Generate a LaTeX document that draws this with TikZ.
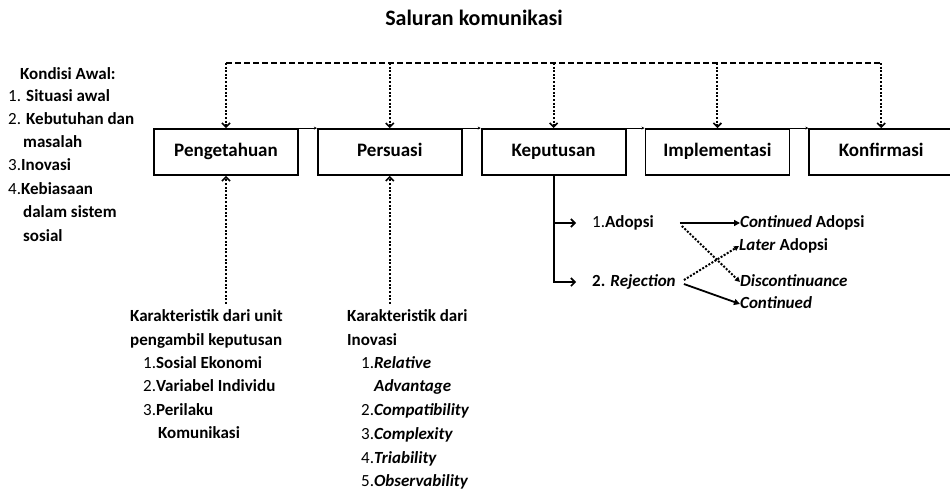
\documentclass[tikz,border=0pt]{standalone}
\usepackage{fontspec}
\setmainfont{Carlito}
\usetikzlibrary{positioning}
\usetikzlibrary{arrows.meta}
\newcommand{\num}[1]{\textmd{#1}}

\begin{document}
\begin{tikzpicture}[x=1pt,y=-1pt,
		stage/.style={draw,line width=1.8pt,minimum width=144pt,minimum height=46pt,inner sep=0pt,text height=13pt,text depth=4pt,font=\bfseries\fontsize{19}{22}\selectfont},
		item/.style={anchor=west,inner sep=0pt,text height=12pt,text depth=4pt,font=\bfseries\fontsize{17}{20}\selectfont},
		link/.style={line width=0.6pt,-{Stealth[length=3pt,width=3pt]}},
		feed/.style={line width=2pt,dash pattern=on 2pt off 1.6pt,-{Straight Barb[length=4pt,width=8pt,line width=1.6pt]}},
		dots/.style={line width=2pt,dash pattern=on 2pt off 1.6pt,-{Triangle[length=5pt,width=5pt]}},
		flow/.style={line width=1.8pt,-{Triangle[length=6pt,width=6pt]}},
		branch/.style={line width=1.8pt,-{Straight Barb[length=4pt,width=8pt,line width=1.6pt]}},
		node distance=18pt]
		% Fix the page
		\useasboundingbox (0,0) rectangle (950,490);
		% Title
		\node[font=\bfseries\fontsize{22}{26}\selectfont] (title) at (474,18) {Saluran komunikasi};
		% Draw stages
		\node[stage] (peng) at (226,152) {Pengetahuan};
		\node[stage,right=of peng] (pers) {Persuasi};
		\node[stage,right=of pers] (kep) {Keputusan};
		\node[stage,right=of kep] (impl) {Implementasi};
		\node[stage,right=of impl] (konf) {Konfirmasi};
		\draw[link] (peng.north east) -- (pers.north west);
		\draw[link] (pers.north east) -- (kep.north west);
		\draw[link] (kep.north east) -- (impl.north west);
		\draw[link] (impl.north east) -- (konf.north west);
		% Communication channel
		\coordinate (top) at (0,63);
		\draw[line width=1.8pt,dash pattern=on 6pt off 3pt] (peng.north |- top) -- (konf.north |- top);
		\foreach \s in {peng,pers,kep,impl,konf}
			\draw[feed] (\s.north |- top) -- (\s.north);
		% Initial conditions
		\foreach \txt/\xx/\yy [count=\i] in {
			{Kondisi Awal:}/20/75,
			{\num{1.} Situasi awal}/8/97,
			{\num{2.} Kebutuhan dan}/8/120,
			{masalah}/23/143,
			{\num{3.}Inovasi}/8/166,
			{\num{4.}Kebiasaan}/8/190,
			{dalam sistem}/23/213,
			{sosial}/23/237}
			\node[item] (kond\i) at (\xx,\yy) {\txt};
		% Characteristics of the decision unit
		\foreach \txt/\xx/\yy [count=\i] in {
			{Karakteristik dari unit}/130/317,
			{pengambil keputusan}/130/341,
			{\num{1.}Sosial Ekonomi}/143/364,
			{\num{2.}Variabel Individu}/143/387,
			{\num{3.}Perilaku}/143/411,
			{Komunikasi}/158/434}
			\node[item] (unit\i) at (\xx,\yy) {\txt};
		% Characteristics of the innovation
		\foreach \txt/\xx/\yy [count=\i] in {
			{Karakteristik dari}/347/317,
			{Inovasi}/347/341,
			{\num{1.}\textit{Relative}}/361/364,
			{\textit{Advantage}}/374/387,
			{\num{2.}\textit{Compatibility}}/361/411,
			{\num{3.}\textit{Complexity}}/361/435,
			{\num{4.}\textit{Triability}}/361/459,
			{\num{5.}\textit{Observability}}/361/482}
			\node[item] (inov\i) at (\xx,\yy) {\txt};
		\draw[feed] ([yshift=5pt]peng.south |- unit1.north) -- (peng.south);
		\draw[feed] ([yshift=5pt]pers.south |- inov1.north) -- (pers.south);
		% Decision outcomes
		\node[item] (adopsi) at (592,223) {\num{1.}Adopsi};
		\node[item] (rej) at (592,282) {2. \textit{Rejection}};
		\node[item] (contA) at (740,223) {\textit{Continued} Adopsi};
		\node[item] (later) at (739,246) {\textit{Later} Adopsi};
		\node[item] (disc) at (740,282) {\textit{Discontinuance}};
		\node[item] (contB) at (740,304) {\textit{Continued}};
		\draw[branch] (kep.south) |- ([xshift=-16pt]rej.west);
		\draw[branch] (kep.south |- adopsi.west) -- ([xshift=-16pt]adopsi.west);
		\draw[flow] ([xshift=26pt]adopsi.east) -- (contA.west);
		\draw[dots] ([xshift=28pt,yshift=-3pt]adopsi.east) -- (disc.west);
		\draw[dots] ([xshift=8pt,yshift=2pt]rej.east) -- (later.west);
		\draw[flow] ([xshift=8pt,yshift=-2pt]rej.east) -- (contB.west);
	\end{tikzpicture}
\end{document}
